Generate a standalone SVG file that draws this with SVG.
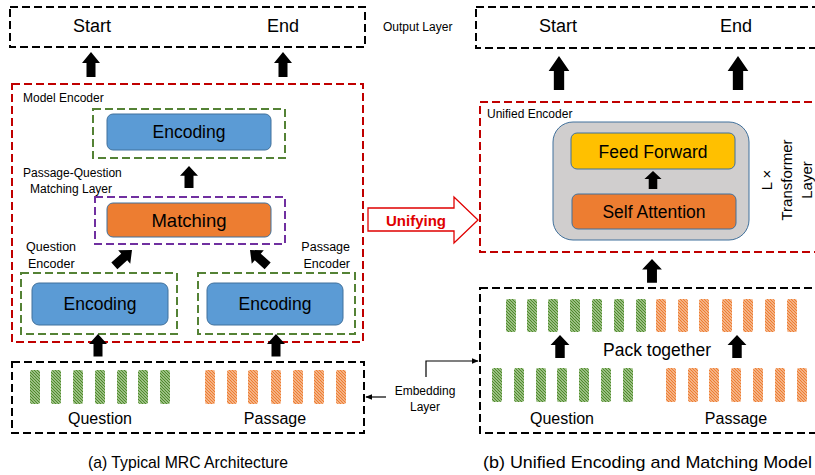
<svg xmlns="http://www.w3.org/2000/svg" width="815" height="475" viewBox="0 0 815 475">
<defs>
<style>
text{font-family:"Liberation Sans",Arial,sans-serif;fill:#000}
.bd{fill:none;stroke:#000;stroke-width:2;stroke-dasharray:8,4}
.rd{fill:none;stroke:#c00000;stroke-width:2;stroke-dasharray:8,4}
.gd{fill:none;stroke:#548235;stroke-width:2;stroke-dasharray:8,4}
.pd{fill:none;stroke:#7030a0;stroke-width:2;stroke-dasharray:8,4}
.blue{fill:#5b9bd5;stroke:#41719c;stroke-width:1}
.orng{fill:#ed7d31;stroke:#41719c;stroke-width:1}
.yel{fill:#ffc000;stroke:#41719c;stroke-width:1}
.big{font-size:18px;text-anchor:middle}
.mid{font-size:17.5px;text-anchor:middle}
.sm{font-size:12px}
.gb{fill:url(#hg)}
.ob{fill:url(#ho)}
.thin{fill:none;stroke:#000;stroke-width:1.2}
</style>
<pattern id="hg" patternUnits="userSpaceOnUse" width="3" height="3">
<rect width="3" height="3" fill="#d5e8c8"/>
<path d="M-1,-1 L4,4 M-1,2 L1,4 M2,-1 L4,1" stroke="#4f8a2b" stroke-width="1.3"/>
</pattern>
<pattern id="ho" patternUnits="userSpaceOnUse" width="3" height="3">
<rect width="3" height="3" fill="#fbdcc6"/>
<path d="M-1,-1 L4,4 M-1,2 L1,4 M2,-1 L4,1" stroke="#ed7d31" stroke-width="1.3"/>
</pattern>
<path id="ar" d="M0,0 L9,11 L4.5,11 L4.5,25 L-4.5,25 L-4.5,11 L-9,11 Z" fill="#000"/>
<marker id="ah" viewBox="0 0 10 10" refX="9" refY="5" markerWidth="6" markerHeight="6" orient="auto">
<path d="M0,1 L10,5 L0,9 Z" fill="#000"/>
</marker>
</defs>

<!-- Left side (a) -->
<g id="out-left">
<rect class="bd" x="10" y="7" width="355" height="40"/>
<text class="big" x="92" y="32">Start</text>
<text class="big" x="283" y="32">End</text>
</g>
<g id="output-layer-label"><text class="sm" x="383" y="31">Output Layer</text></g>

<g id="model-encoder">
<rect class="rd" x="12" y="84" width="351" height="258"/>
<text class="sm" x="23" y="102">Model Encoder</text>
</g>

<g id="encoding-top">
<rect class="gd" x="93" y="109" width="192" height="49"/>
<rect class="blue" x="107" y="114" width="164" height="36" rx="6"/>
<text class="mid" x="189" y="138">Encoding</text>
</g>

<g id="pq-label">
<text class="sm" x="23" y="177">Passage-Question</text>
<text class="sm" x="30" y="193">Matching Layer</text>
</g>

<g id="matching">
<rect class="pd" x="95" y="197" width="190" height="47"/>
<rect class="orng" x="107" y="203" width="164" height="34" rx="6"/>
<text class="mid" x="189" y="227" style="font-size:18.5px">Matching</text>
</g>

<g id="q-encoder">
<text class="sm" x="26" y="251" style="font-size:12.5px">Question</text>
<text class="sm" x="28" y="268" style="font-size:12.5px">Encoder</text>
<rect class="gd" x="21" y="273" width="156" height="61"/>
<rect class="blue" x="32" y="283" width="136" height="42" rx="7"/>
<text class="mid" x="100" y="310">Encoding</text>
</g>

<g id="p-encoder">
<text class="sm" x="350" y="251" style="font-size:12.5px;text-anchor:end">Passage</text>
<text class="sm" x="350" y="268" style="font-size:12.5px;text-anchor:end">Encoder</text>
<rect class="gd" x="198" y="273" width="157" height="61"/>
<rect class="blue" x="207" y="283" width="136" height="42" rx="7"/>
<text class="mid" x="275" y="310">Encoding</text>
</g>

<g id="embed-left">
<rect class="bd" x="12" y="362" width="352" height="71"/>
<g class="gb">
<rect x="30" y="370" width="10" height="34" rx="2"/>
<rect x="51" y="370" width="10" height="34" rx="2"/>
<rect x="73" y="370" width="10" height="34" rx="2"/>
<rect x="95" y="370" width="10" height="34" rx="2"/>
<rect x="117" y="370" width="10" height="34" rx="2"/>
<rect x="138" y="370" width="10" height="34" rx="2"/>
<rect x="160" y="370" width="10" height="34" rx="2"/>
</g>
<g class="ob">
<rect x="205" y="370" width="10" height="34" rx="2"/>
<rect x="227" y="370" width="10" height="34" rx="2"/>
<rect x="248" y="370" width="10" height="34" rx="2"/>
<rect x="271" y="370" width="10" height="34" rx="2"/>
<rect x="293" y="370" width="10" height="34" rx="2"/>
<rect x="314" y="370" width="10" height="34" rx="2"/>
<rect x="336" y="370" width="10" height="34" rx="2"/>
</g>
<text x="100" y="424" style="font-size:16px;text-anchor:middle">Question</text>
<text x="275" y="424" style="font-size:16px;text-anchor:middle">Passage</text>
</g>

<g id="embedding-label">
<text class="sm" x="425" y="395" text-anchor="middle">Embedding</text>
<text class="sm" x="425" y="411" text-anchor="middle">Layer</text>
</g>

<!-- Unifying arrow -->
<g id="unifying">
<path d="M368,208 L454,208 L454,197 L478,220 L454,243 L454,231 L368,231 Z" fill="#fff" stroke="#e00000" stroke-width="1.3"/>
<text x="416" y="226" style="font-size:15px;font-weight:bold;fill:#e00000;text-anchor:middle">Unifying</text>
</g>

<!-- Right side (b) -->
<g id="out-right">
<rect class="bd" x="476" y="7" width="360" height="41"/>
<text class="big" x="558" y="32">Start</text>
<text class="big" x="736" y="32">End</text>
</g>

<g id="unified-encoder">
<rect class="rd" x="480" y="102" width="360" height="150"/>
<text class="sm" x="487" y="118">Unified Encoder</text>
</g>

<g id="transformer">
<rect x="553" y="122" width="196" height="118" rx="20" fill="#d0cece" stroke="#41719c" stroke-width="1"/>
<rect class="yel" x="571" y="133" width="164" height="36" rx="6"/>
<text class="mid" x="653" y="158">Feed Forward</text>
<rect class="orng" x="572" y="194" width="164" height="35" rx="6"/>
<text class="mid" x="654" y="218">Self Attention</text>
</g>

<g id="lx-label">
<g transform="translate(787,180) rotate(-90)">
<text x="0" y="-15" style="font-size:15px;text-anchor:middle">L ×</text>
<text x="0" y="5" style="font-size:15px;text-anchor:middle">Transformer</text>
<text x="0" y="25" style="font-size:15px;text-anchor:middle">Layer</text>
</g>
</g>

<g id="embed-right">
<rect class="bd" x="480" y="288" width="360" height="145"/>
<g class="gb">
<rect x="506" y="299" width="10" height="33" rx="2"/>
<rect x="527" y="299" width="10" height="33" rx="2"/>
<rect x="548" y="299" width="10" height="33" rx="2"/>
<rect x="570" y="299" width="10" height="33" rx="2"/>
<rect x="592" y="299" width="10" height="33" rx="2"/>
<rect x="614" y="299" width="10" height="33" rx="2"/>
<rect x="636" y="299" width="10" height="33" rx="2"/>
<rect x="492" y="368" width="10" height="34" rx="2"/>
<rect x="514" y="368" width="10" height="34" rx="2"/>
<rect x="536" y="368" width="10" height="34" rx="2"/>
<rect x="557" y="368" width="10" height="34" rx="2"/>
<rect x="579" y="368" width="10" height="34" rx="2"/>
<rect x="601" y="368" width="10" height="34" rx="2"/>
<rect x="623" y="368" width="10" height="34" rx="2"/>
</g>
<g class="ob">
<rect x="656" y="299" width="10" height="33" rx="2"/>
<rect x="678" y="299" width="10" height="33" rx="2"/>
<rect x="699" y="299" width="10" height="33" rx="2"/>
<rect x="722" y="299" width="10" height="33" rx="2"/>
<rect x="743" y="299" width="10" height="33" rx="2"/>
<rect x="765" y="299" width="10" height="33" rx="2"/>
<rect x="787" y="299" width="10" height="33" rx="2"/>
<rect x="666" y="368" width="10" height="34" rx="2"/>
<rect x="688" y="368" width="10" height="34" rx="2"/>
<rect x="709" y="368" width="10" height="34" rx="2"/>
<rect x="731" y="368" width="10" height="34" rx="2"/>
<rect x="753" y="368" width="10" height="34" rx="2"/>
<rect x="775" y="368" width="10" height="34" rx="2"/>
<rect x="797" y="368" width="10" height="34" rx="2"/>
</g>
<text class="big" x="657" y="356" style="font-size:17.5px">Pack together</text>
<text x="562" y="424" style="font-size:16px;text-anchor:middle">Question</text>
<text x="736" y="424" style="font-size:16px;text-anchor:middle">Passage</text>
</g>

<g id="captions">
<text x="88" y="468" style="font-size:17px" textLength="200" lengthAdjust="spacingAndGlyphs">(a) Typical MRC Architecture</text>
<text x="483" y="468" style="font-size:17px" textLength="329" lengthAdjust="spacingAndGlyphs">(b) Unified Encoding and Matching Model</text>
</g>

<g id="connectors">
<use href="#ar" transform="translate(91,52)"/>
<use href="#ar" transform="translate(283,52)"/>
<use href="#ar" transform="translate(189,166) scale(1,0.88)"/>
<use href="#ar" transform="translate(132,250) rotate(48) scale(1,0.95)"/>
<use href="#ar" transform="translate(250,250) rotate(-48) scale(1,0.95)"/>
<use href="#ar" transform="translate(98,334) scale(1,0.9)"/>
<use href="#ar" transform="translate(276,334) scale(1,0.9)"/>
<use href="#ar" transform="translate(559,56) scale(1.15,1.36)"/>
<use href="#ar" transform="translate(738,56) scale(1.15,1.36)"/>
<use href="#ar" transform="translate(653,171) scale(0.95,0.72)"/>
<use href="#ar" transform="translate(652,259) scale(1.1,0.95)"/>
<use href="#ar" transform="translate(560,335) scale(1.05,0.92)"/>
<use href="#ar" transform="translate(737,335) scale(1.05,0.92)"/>
<line class="thin" x1="386" y1="397" x2="366" y2="397" marker-end="url(#ah)"/>
<polyline class="thin" points="426,377 426,361 478,361" marker-end="url(#ah)"/>
</g>
</svg>
